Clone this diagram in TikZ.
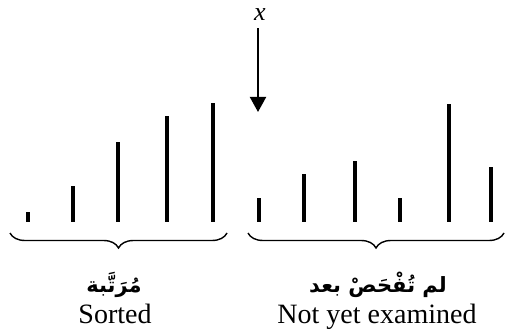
\documentclass[tikz,border=0pt]{standalone}
\usepackage{fontspec}
\setmainfont{Liberation Serif}
\newfontfamily\arabicfont[Script=Arabic]{DejaVu Sans}
\TeXXeTstate=1
\usetikzlibrary{arrows.meta,decorations.pathreplacing}
\tikzset{
    bar/.style={line width=3.5pt},
    grpbrace/.style={decorate, decoration={brace, mirror, amplitude=15pt}, line width=1.4pt},
    lbl/.style={font=\fontsize{28}{32}\selectfont, inner sep=0pt},
    arlbl/.style={font=\fontsize{21}{26}\selectfont\arabicfont\bfseries, inner sep=0pt}
}
\begin{document}
\begin{tikzpicture}[x=1pt,y=1pt]
        \useasboundingbox (0,0) rectangle (506,335);
        % Sorted part
        \foreach \x/\h in {28/10, 73/36, 118/80, 167/106, 213/119} {
            \draw[bar] (\x, 113) -- ++(0, \h);
        }
        % Not yet examined part
        \foreach \x/\h in {259/24, 304/48, 355/61, 400/24, 449/118, 491/55} {
            \draw[bar] (\x, 113) -- ++(0, \h);
        }
        
        % Current element
        \node[font=\fontsize{26}{30}\selectfont\itshape, inner sep=0pt] (xlab) at (260, 320) {x};
        \coordinate (xtip) at (258, 223);
        \draw[line width=2pt, -{Triangle[width=16pt,length=15pt]}] (xlab.south -| xtip) ++(0,-7) -- (xtip);
        
        % Braces
        \coordinate (sL) at (10, 102);
        \coordinate (sR) at (227, 102);
        \coordinate (uL) at (248, 102);
        \coordinate (uR) at (504, 102);
        \draw[grpbrace] (sL) -- (sR);
        \draw[grpbrace] (uL) -- (uR);
        
        % Labels
        \node[arlbl] (sortedAr) at (114, 50) {\beginR مُرَتَّبة\endR};
        \node[lbl, anchor=base] (sorted) at (115, 12) {Sorted};
        \node[arlbl] (uncheckedAr) at (378, 50) {\beginR لم تُفْحَصْ بعد\endR};
        \node[lbl, anchor=base] (unchecked) at (377, 12) {Not yet examined};
    \end{tikzpicture}
\end{document}
